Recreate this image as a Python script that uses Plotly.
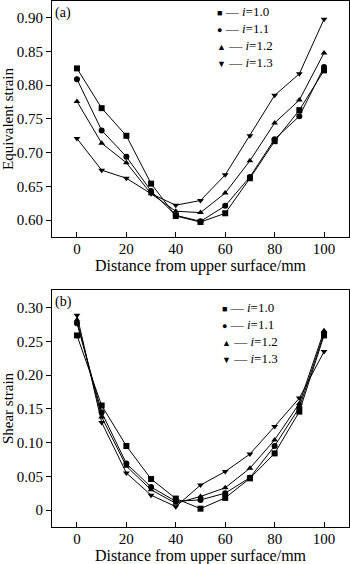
import plotly.graph_objects as go

# ---- data ----
distance = [0, 10, 20, 30, 40, 50, 60, 70, 80, 90, 100]
series_names = ["<i>i</i>=1.0", "<i>i</i>=1.1", "<i>i</i>=1.2", "<i>i</i>=1.3"]
symbols = ["square", "circle", "triangle-up", "triangle-down"]
legend_glyphs = ["■", "●", "▲", "▼"]

equiv_10 = [0.825, 0.766, 0.725, 0.654, 0.606, 0.597, 0.610, 0.662, 0.717, 0.763, 0.822]
equiv_11 = [0.809, 0.733, 0.694, 0.643, 0.607, 0.598, 0.621, 0.664, 0.720, 0.754, 0.827]
equiv_12 = [0.776, 0.714, 0.685, 0.639, 0.613, 0.611, 0.640, 0.688, 0.744, 0.778, 0.848]
equiv_13 = [0.721, 0.674, 0.662, 0.639, 0.622, 0.629, 0.667, 0.725, 0.785, 0.817, 0.898]

shear_10 = [0.259, 0.155, 0.095, 0.046, 0.017, 0.002, 0.018, 0.047, 0.084, 0.146, 0.259]
shear_11 = [0.277, 0.145, 0.069, 0.034, 0.013, 0.015, 0.025, 0.048, 0.095, 0.152, 0.262]
shear_12 = [0.282, 0.138, 0.065, 0.030, 0.010, 0.020, 0.033, 0.062, 0.104, 0.158, 0.266]
shear_13 = [0.289, 0.130, 0.055, 0.022, 0.005, 0.037, 0.057, 0.083, 0.124, 0.166, 0.235]

equiv_ticks = [0.60, 0.65, 0.70, 0.75, 0.80, 0.85, 0.90]
equiv_ticktext = ["0.60", "0.65", "0.70", "0.75", "0.80", "0.85", "0.90"]
shear_ticks = [0, 0.05, 0.10, 0.15, 0.20, 0.25, 0.30]
shear_ticktext = ["0", "0.05", "0.10", "0.15", "0.20", "0.25", "0.30"]
x_ticks = [0, 20, 40, 60, 80, 100]
x_title = "Distance from upper surface/mm"

W, H = 350, 564
FONT = "Liberation Serif"

fig = go.Figure()

equiv_all = [equiv_10, equiv_11, equiv_12, equiv_13]
shear_all = [shear_10, shear_11, shear_12, shear_13]
for name, sym, ys in zip(series_names, symbols, equiv_all):
    fig.add_trace(go.Scatter(
        x=distance, y=ys, mode="lines+markers", name=name, showlegend=False,
        line=dict(color="black", width=1),
        marker=dict(symbol=sym, size=6, color="black"),
        xaxis="x", yaxis="y"))
for name, sym, ys in zip(series_names, symbols, shear_all):
    fig.add_trace(go.Scatter(
        x=distance, y=ys, mode="lines+markers", name=name, showlegend=False,
        line=dict(color="black", width=1),
        marker=dict(symbol=sym, size=6, color="black"),
        xaxis="x2", yaxis="y2"))

x_left, x_right = 52 / W, 349 / W
x_mid = (x_left + x_right) / 2
top_dom = [1 - 237 / H, 1 - 1 / H]
bot_dom = [1 - 527 / H, 1 - 290 / H]

axis_common = dict(showline=True, linecolor="black", linewidth=1, mirror=True,
                   showgrid=False, zeroline=False,
                   tickfont=dict(family=FONT, size=15, color="black"))

xcommon = dict(axis_common, range=[-10.1, 110.1], tickvals=x_ticks,
               ticks="inside", ticklen=5, tickcolor="black",
               ticklabelstandoff=-2,
               domain=[x_left, x_right])

# legend built as a text block (marker glyph, dash, label per row)
legend_text = "<br>".join(
    '<span style="font-size:9px">' + g + '</span> — ' + n
    for g, n in zip(legend_glyphs, series_names))

annotations = [
    dict(text="(a)", x=x_left + 1 / W, y=1 - 3 / H, xref="paper", yref="paper",
         xanchor="left", yanchor="top", showarrow=False,
         font=dict(family=FONT, size=14, color="black")),
    dict(text="(b)", x=x_left + 1 / W, y=1 - 292 / H, xref="paper", yref="paper",
         xanchor="left", yanchor="top", showarrow=False,
         font=dict(family=FONT, size=14, color="black")),
    dict(text=x_title, x=x_mid, y=1 - 266 / H, xref="paper", yref="paper",
         xanchor="center", yanchor="middle", showarrow=False,
         font=dict(family=FONT, size=16, color="black")),
    dict(text=x_title, x=x_mid, y=1 - 556 / H, xref="paper", yref="paper",
         xanchor="center", yanchor="middle", showarrow=False,
         font=dict(family=FONT, size=16, color="black")),
    dict(text=legend_text, x=215 / W, y=1 - 37 / H, xref="paper", yref="paper",
         xanchor="left", yanchor="middle", align="left", showarrow=False,
         font=dict(family=FONT, size=13, color="black")),
    dict(text=legend_text, x=220 / W, y=1 - 333 / H, xref="paper", yref="paper",
         xanchor="left", yanchor="middle", align="left", showarrow=False,
         font=dict(family=FONT, size=13, color="black")),
]

fig.update_layout(
    width=W, height=H,
    margin=dict(l=0, r=0, t=0, b=0),
    paper_bgcolor="white", plot_bgcolor="white",
    font=dict(family=FONT, size=14, color="black"),
    showlegend=False,
    xaxis=dict(xcommon, anchor="y"),
    yaxis=dict(axis_common, domain=top_dom, anchor="x",
               range=[0.5748, 0.925], tickvals=equiv_ticks, ticktext=equiv_ticktext,
               ticks="outside", ticklen=5, tickcolor="black",
               title=dict(text="Equivalent strain",
                          font=dict(family=FONT, size=15, color="black"), standoff=4)),
    xaxis2=dict(xcommon, anchor="y2"),
    yaxis2=dict(axis_common, domain=bot_dom, anchor="x2",
                range=[-0.0252, 0.3264], tickvals=shear_ticks, ticktext=shear_ticktext,
                ticks="outside", ticklen=5, tickcolor="black",
                title=dict(text="Shear strain",
                           font=dict(family=FONT, size=15, color="black"), standoff=4)),
    annotations=annotations,
)

fig.write_html("out.html")
